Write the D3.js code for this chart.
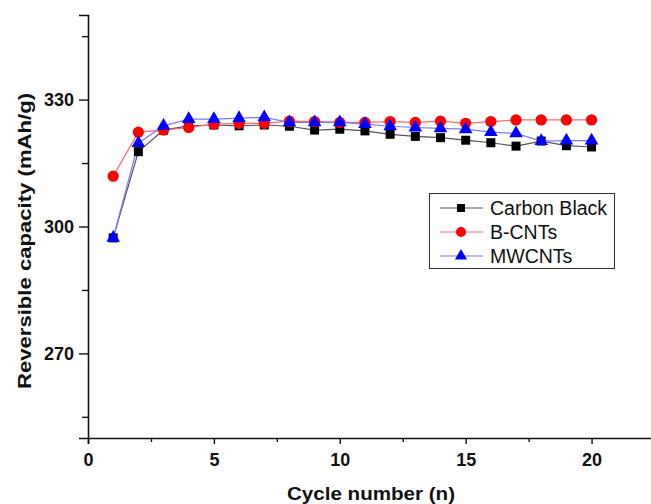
<!DOCTYPE html>
<html><head><meta charset="utf-8">
<script src="https://cdn.jsdelivr.net/npm/d3@7"></script>
<style>body{margin:0;background:#fff}svg{display:block}</style>
</head><body>
<script>
const cycles = [1,2,3,4,5,6,7,8,9,10,11,12,13,14,15,16,17,18,19,20];
const carbonBlack = [297.3,317.7,322.8,323.8,324.0,323.8,324.0,323.7,322.8,323.0,322.6,321.8,321.3,321.0,320.4,319.8,319.0,320.2,319.1,318.8];
const bCNTs       = [311.9,322.3,322.8,323.4,324.2,324.4,324.4,324.9,324.8,324.6,324.6,324.8,324.6,324.9,324.4,324.8,325.2,325.2,325.2,325.2];
const mwCNTs      = [297.3,319.7,323.8,325.4,325.4,325.6,325.8,324.6,324.6,324.6,324.2,323.7,323.4,323.2,323.0,322.3,322.0,320.2,320.3,320.3];
const seriesNames = ["Carbon Black","B-CNTs","MWCNTs"];
const xTicks = [0,5,10,15,20];
const xMinor = [2.5,7.5,12.5,17.5];
const yTicks = [270,300,330];
const yMinor = [255,285,315,345];

const W=651,H=504;
const svg=d3.select("body").append("svg").attr("width",W).attr("height",H);
const x=d3.scaleLinear().domain([0,22.4]).range([88,652]);
const y=d3.scaleLinear().domain([250,350]).range([438,15]);
const font="'Liberation Sans', Arial, sans-serif";

// axes
const xAxis=svg.append("g").attr("transform","translate(0,438)");
xAxis.call(d3.axisBottom(x).tickValues(xTicks).tickSize(6).tickPadding(9).tickFormat(d3.format("d")));
xAxis.append("g").call(d3.axisBottom(x).tickValues(xMinor).tickSize(4).tickFormat("")).select(".domain").remove();
const yAxis=svg.append("g").attr("transform","translate(88,0)");
yAxis.call(d3.axisLeft(y).tickValues(yTicks).tickSize(9).tickPadding(5).tickFormat(d3.format("d")));
yAxis.append("g").call(d3.axisLeft(y).tickValues(yMinor).tickSize(6).tickFormat("")).select(".domain").remove();
svg.selectAll(".domain").attr("stroke","#111").attr("stroke-width",1.6);
svg.selectAll(".tick line").attr("stroke","#111").attr("stroke-width",1.4);
svg.selectAll(".tick text").attr("font-family",font).attr("font-weight","bold").attr("font-size",18).attr("fill","#111");

// titles
svg.append("text").attr("x",371).attr("y",500).attr("text-anchor","middle")
  .attr("font-family",font).attr("font-weight","bold").attr("font-size",18.5).attr("fill","#111")
  .attr("textLength",168).attr("lengthAdjust","spacingAndGlyphs").text("Cycle number (n)");
svg.append("text").attr("transform","translate(31,241) rotate(-90)").attr("text-anchor","middle")
  .attr("font-family",font).attr("font-weight","bold").attr("font-size",18.5).attr("fill","#111")
  .attr("textLength",296).attr("lengthAdjust","spacingAndGlyphs").text("Reversible capacity (mAh/g)");

const series=[
  {name:seriesNames[0],vals:carbonBlack,line:"#555",fill:"#000",shape:d3.symbolSquare,size:81},
  {name:seriesNames[1],vals:bCNTs,line:"#ff6b6b",fill:"#ff0000",shape:d3.symbolCircle,size:100},
  {name:seriesNames[2],vals:mwCNTs,line:"#7a7aff",fill:"#0000ff",shape:d3.symbolTriangle,size:80}
];
const line=d3.line().x((d,i)=>x(cycles[i])).y(d=>y(d));
series.forEach(s=>{
  svg.append("path").datum(s.vals).attr("d",line).attr("fill","none").attr("stroke",s.line).attr("stroke-width",1.2);
});
series.forEach(s=>{
  svg.append("g").selectAll("path").data(s.vals).join("path")
    .attr("transform",(d,i)=>`translate(${x(cycles[i])},${y(d)})`)
    .attr("d",d3.symbol().type(s.shape).size(s.size)).attr("fill",s.fill);
});

// legend
const lg=svg.append("g");
lg.append("rect").attr("x",429.5).attr("y",193.5).attr("width",185).attr("height",75)
  .attr("fill","#fff").attr("stroke","#333").attr("stroke-width",1);
series.forEach((s,i)=>{
  const yy=208+i*24;
  lg.append("line").attr("x1",440).attr("x2",483).attr("y1",yy).attr("y2",yy).attr("stroke",s.line).attr("stroke-width",1.2);
  lg.append("path").attr("transform",`translate(461,${yy})`).attr("d",d3.symbol().type(s.shape).size(s.size*0.8)).attr("fill",s.fill);
  lg.append("text").attr("x",490).attr("y",yy).attr("dy","0.35em").attr("font-family",font).attr("font-size",19.5)
    .attr("fill","#111").text(s.name);
});
</script>
</body></html>
